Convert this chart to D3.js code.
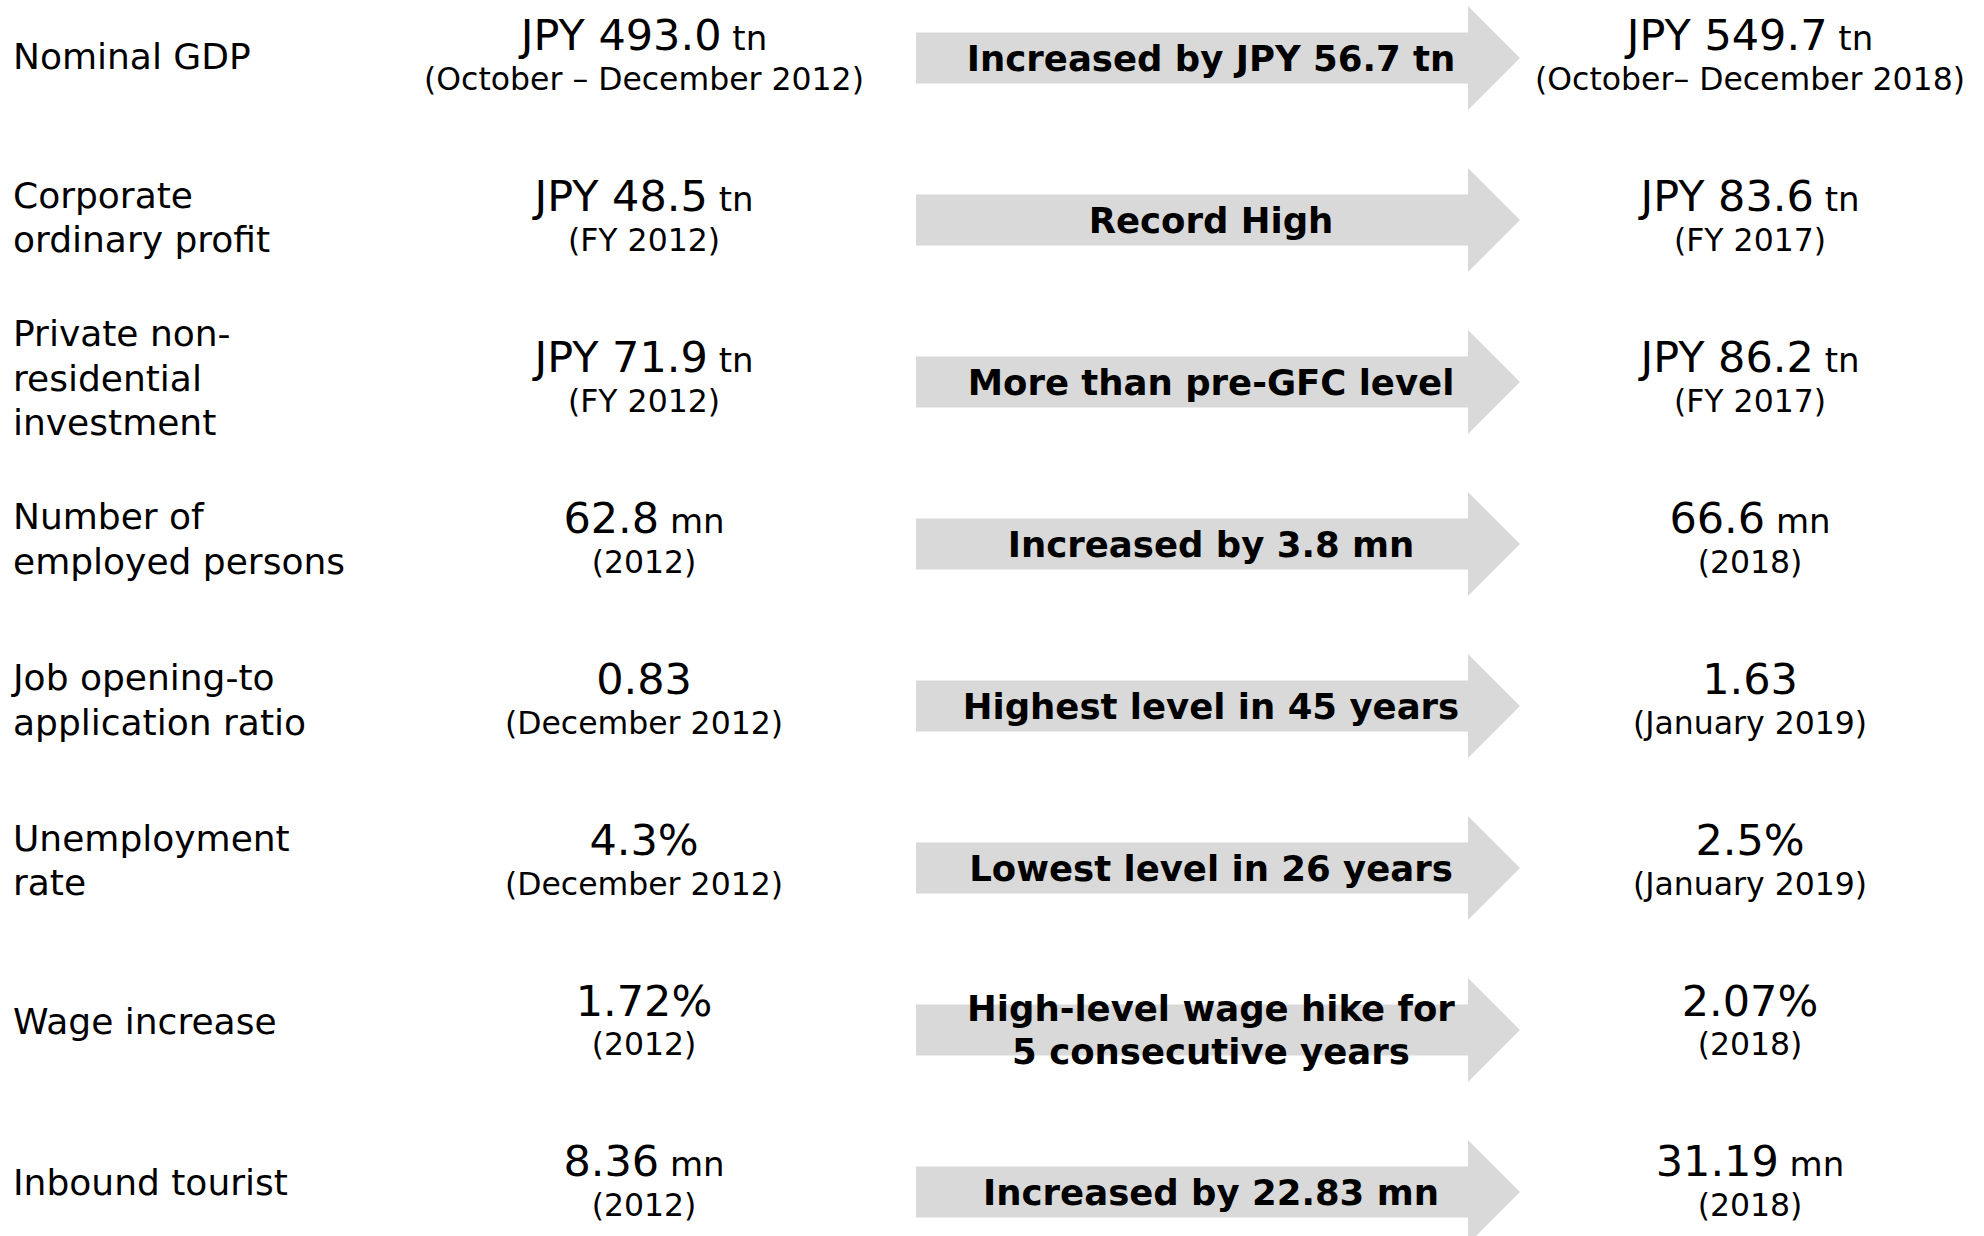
<!DOCTYPE html>
<html>
<head>
<meta charset="utf-8">
<script src="https://cdn.jsdelivr.net/npm/d3@7"></script>
<style>
  html, body { margin: 0; padding: 0; background: #fff; }
  text { font-family: "DejaVu Sans", Verdana, sans-serif; fill: #000; }
</style>
</head>
<body>
<div id="chart"></div>
<script>
const WIDTH = 1984;
const HEIGHT = 1236;

// indicator names (\n = line break)
const indicators = [
    "Nominal GDP",
    "Corporate\nordinary profit",
    "Private non-\nresidential\ninvestment",
    "Number of\nemployed persons",
    "Job opening-to\napplication ratio",
    "Unemployment\nrate",
    "Wage increase",
    "Inbound tourist"
];

const beforeValues = ["JPY 493.0", "JPY 48.5", "JPY 71.9", "62.8", "0.83", "4.3%", "1.72%", "8.36"];
const beforeUnits = ["tn", "tn", "tn", "mn", "", "", "", "mn"];
const beforePeriods = ["(October \u2013 December 2012)", "(FY 2012)", "(FY 2012)", "(2012)",
    "(December 2012)", "(December 2012)", "(2012)", "(2012)"];

const afterValues = ["JPY 549.7", "JPY 83.6", "JPY 86.2", "66.6", "1.63", "2.5%", "2.07%", "31.19"];
const afterUnits = ["tn", "tn", "tn", "mn", "", "", "", "mn"];
const afterPeriods = ["(October\u2013 December 2018)", "(FY 2017)", "(FY 2017)", "(2018)",
    "(January 2019)", "(January 2019)", "(2018)", "(2018)"];

const changes = [
    "Increased by JPY 56.7 tn",
    "Record High",
    "More than pre-GFC level",
    "Increased by 3.8 mn",
    "Highest level in 45 years",
    "Lowest level in 26 years",
    "High-level wage hike for\n5 consecutive years",
    "Increased by 22.83 mn"
];

var svg = d3.select('#chart')
    .append('svg')
    .attr('width', WIDTH)
    .attr('height', HEIGHT);

let rows = d3.range(indicators.length);

// vertical position scales (arrows and text drift slightly apart in the original)
let arrowY = d3.scalePoint().domain(rows).range([58, 1192]);
let labelY = d3.scalePoint().domain(rows).range([56, 1182]);
let valueY = d3.scalePoint().domain(rows).range([35, 1161]);

// column positions
let colX = d3.scaleOrdinal()
    .domain(['label', 'before', 'arrow', 'after'])
    .range([13, 644, 1211, 1750]);

const ARROW_LEFT = 916;
const ARROW_NECK = 1468;
const ARROW_TIP = 1520;
const BODY_HALF = 25.5;
const HEAD_HALF = 52;

function arrowPath(cy) {
    let p = d3.path();
    p.moveTo(ARROW_LEFT, cy - BODY_HALF);
    p.lineTo(ARROW_NECK, cy - BODY_HALF);
    p.lineTo(ARROW_NECK, cy - HEAD_HALF);
    p.lineTo(ARROW_TIP, cy);
    p.lineTo(ARROW_NECK, cy + HEAD_HALF);
    p.lineTo(ARROW_NECK, cy + BODY_HALF);
    p.lineTo(ARROW_LEFT, cy + BODY_HALF);
    p.closePath();
    return p.toString();
}

// arrows
svg.append('g')
    .selectAll('path')
    .data(rows)
    .enter()
    .append('path')
    .attr('d', i => arrowPath(arrowY(i)))
    .attr('fill', '#d9d9d9');

// multi-line text centred on a y position
function multiline(sel, getText, lineHeight) {
    sel.each(function(i) {
        let lines = getText(i).split('\n');
        let t = d3.select(this);
        let y0 = -(lines.length - 1) * lineHeight / 2;
        lines.forEach((line, k) => {
            t.append('tspan')
                .attr('x', t.attr('x'))
                .attr('dy', k == 0 ? (y0 + 0.36 * t.attr('data-fs')) : lineHeight)
                .text(line);
        });
    });
}

// indicator labels
svg.append('g')
    .selectAll('text')
    .data(rows)
    .enter()
    .append('text')
    .attr('x', colX('label'))
    .attr('y', i => labelY(i))
    .attr('data-fs', 36)
    .attr('font-size', 36)
    .call(multiline, i => indicators[i], 44.5);

// arrow captions
svg.append('g')
    .selectAll('text')
    .data(rows)
    .enter()
    .append('text')
    .attr('x', colX('arrow'))
    .attr('y', i => arrowY(i))
    .attr('text-anchor', 'middle')
    .attr('font-weight', 'bold')
    .attr('data-fs', 35.5)
    .attr('font-size', 35.5)
    .call(multiline, i => changes[i], 43);

// before / after value columns
function valueColumn(col, values, units, periods) {
    let g = svg.append('g');

    let v = g.selectAll('text.value')
        .data(rows)
        .enter()
        .append('text')
        .attr('class', 'value')
        .attr('x', colX(col))
        .attr('y', i => valueY(i))
        .attr('dy', '0.36em')
        .attr('text-anchor', 'middle')
        .attr('font-size', 43);
    v.append('tspan').text(i => values[i]);
    v.filter(i => units[i] != '')
        .append('tspan')
        .attr('font-size', 34)
        .text(i => ' ' + units[i]);

    g.selectAll('text.period')
        .data(rows)
        .enter()
        .append('text')
        .attr('class', 'period')
        .attr('x', colX(col))
        .attr('y', i => valueY(i) + 44)
        .attr('dy', '0.36em')
        .attr('text-anchor', 'middle')
        .attr('font-size', 31.5)
        .text(i => periods[i]);
}

valueColumn('before', beforeValues, beforeUnits, beforePeriods);
valueColumn('after', afterValues, afterUnits, afterPeriods);
</script>
</body>
</html>
